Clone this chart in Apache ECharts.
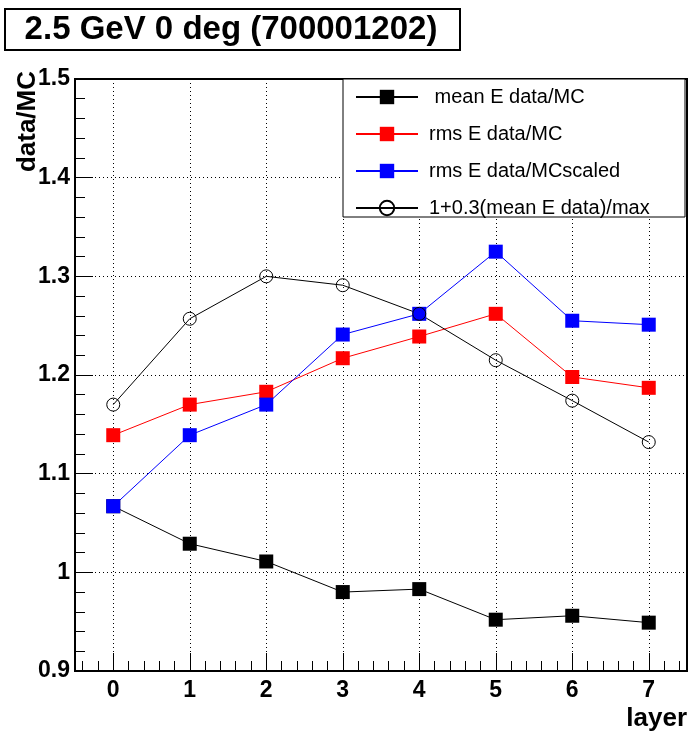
<!DOCTYPE html>
<html>
<head>
<meta charset="utf-8">
<script src="https://cdn.jsdelivr.net/npm/echarts@6/dist/echarts.min.js"></script>
<style>
html,body{margin:0;padding:0;background:#fff;}
#chart{width:689px;height:731px;}
</style>
</head>
<body>
<div id="chart"></div>
<script>
// ---- data ----
var layers = [0, 1, 2, 3, 4, 5, 6, 7];
var meanE = [1.067, 1.029, 1.011, 0.980, 0.983, 0.952, 0.956, 0.949];
var rmsE = [1.139, 1.170, 1.183, 1.217, 1.239, 1.262, 1.198, 1.187];
var rmsScaled = [1.067, 1.139, 1.170, 1.241, 1.262, 1.325, 1.255, 1.251];
var ratioMax = [1.170, 1.257, 1.300, 1.291, 1.262, 1.215, 1.174, 1.132];
var seriesNames = [' mean E data/MC', 'rms E data/MC', 'rms E data/MCscaled', '1+0.3(mean E data)/max'];
var xMajorTicks = [0, 1, 2, 3, 4, 5, 6, 7];
var xMinorTicks = [-0.4, -0.2, 0.2, 0.4, 0.6, 0.8, 1.2, 1.4, 1.6, 1.8, 2.2, 2.4, 2.6, 2.8, 3.2, 3.4, 3.6, 3.8, 4.2, 4.4, 4.6, 4.8, 5.2, 5.4, 5.6, 5.8, 6.2, 6.4, 6.6, 6.8, 7.2, 7.4];
var titleText = '2.5 GeV 0 deg (700001202)';
var yTitle = 'data/MC';
var xTitle = 'layer';

function pairs(vals) {
  return layers.map(function (l, i) { return [l, vals[i]]; });
}

var FONT = 'Liberation Sans, Arial, Helvetica, sans-serif';
var chart = echarts.init(document.getElementById('chart'), null, {renderer: 'canvas'});

var option = {
  animation: false,
  backgroundColor: '#fff',
  grid: {
    left: 75, right: 2, top: 79, bottom: 60,
    show: true, borderColor: '#000', borderWidth: 2, backgroundColor: 'transparent'
  },
  xAxis: [{
    type: 'value', min: -0.5, max: 7.5,
    axisLine: {show: false, onZero: false},
    axisTick: {show: true, inside: true, length: 18, customValues: xMajorTicks, lineStyle: {color: '#000', width: 1}},
    axisLabel: {show: true, customValues: xMajorTicks, color: '#000', fontFamily: FONT, fontWeight: 'bold', fontSize: 23, margin: 8},
    splitLine: {show: true, lineStyle: {color: '#000', type: [1, 3], width: 1}}
  }, {
    type: 'value', min: -0.5, max: 7.5, position: 'bottom',
    axisLine: {show: false, onZero: false},
    axisTick: {show: true, inside: true, length: 10, customValues: xMinorTicks, lineStyle: {color: '#000', width: 1}},
    axisLabel: {show: false},
    splitLine: {show: false}
  }],
  yAxis: {
    type: 'value', min: 0.9, max: 1.5, interval: 0.1,
    axisLine: {show: false, onZero: false},
    axisTick: {show: true, inside: true, length: 18, lineStyle: {color: '#000', width: 1}},
    minorTick: {show: true, splitNumber: 5, length: 10, lineStyle: {color: '#000', width: 1}},
    axisLabel: {color: '#000', fontFamily: FONT, fontWeight: 'bold', fontSize: 23, margin: 5},
    splitLine: {show: true, lineStyle: {color: '#000', type: [1, 3], width: 1}}
  },
  legend: {
    orient: 'vertical', left: 350, top: 81, itemGap: 15,
    itemWidth: 62, itemHeight: 18, z: 10,
    textStyle: {color: '#000', fontFamily: FONT, fontSize: 20, lineHeight: 22, padding: [0, 0, 0, 6]},
    data: seriesNames
  },
  graphic: [
    {type: 'rect', z: 5, shape: {x: 343, y: 79, width: 342, height: 138}, style: {fill: '#fff', stroke: '#000', lineWidth: 1}},
    {type: 'rect', z: 5, shape: {x: 5, y: 9, width: 455, height: 41}, style: {fill: '#fff', stroke: '#000', lineWidth: 2}},
    {type: 'text', z: 6, x: 231, y: 30, style: {text: titleText, fill: '#000', font: 'bold 33px ' + FONT, textAlign: 'center', textVerticalAlign: 'middle'}},
    {type: 'text', z: 6, x: 28, y: 71, rotation: Math.PI / 2, style: {text: yTitle, fill: '#000', font: 'bold 26px ' + FONT, textAlign: 'right', textVerticalAlign: 'middle'}},
    {type: 'text', z: 6, x: 687, y: 719, style: {text: xTitle, fill: '#000', font: 'bold 26px ' + FONT, textAlign: 'right', textVerticalAlign: 'middle'}}
  ],
  series: [
    {name: seriesNames[0], type: 'line', data: pairs(meanE), symbol: 'rect', symbolSize: 14,
      lineStyle: {color: '#000', width: 1}, itemStyle: {color: '#000'}, z: 3},
    {name: seriesNames[1], type: 'line', data: pairs(rmsE), symbol: 'rect', symbolSize: 14,
      lineStyle: {color: '#ff0000', width: 1}, itemStyle: {color: '#ff0000'}, z: 3},
    {name: seriesNames[2], type: 'line', data: pairs(rmsScaled), symbol: 'rect', symbolSize: 14,
      lineStyle: {color: '#0000ff', width: 1}, itemStyle: {color: '#0000ff'}, z: 3},
    {name: seriesNames[3], type: 'line', data: pairs(ratioMax), symbol: 'circle', symbolSize: 13,
      lineStyle: {color: '#000', width: 1}, itemStyle: {color: 'rgba(255,255,255,0)', borderColor: '#000', borderWidth: 1}, z: 3}
  ]
};
chart.setOption(option);
</script>
</body>
</html>
